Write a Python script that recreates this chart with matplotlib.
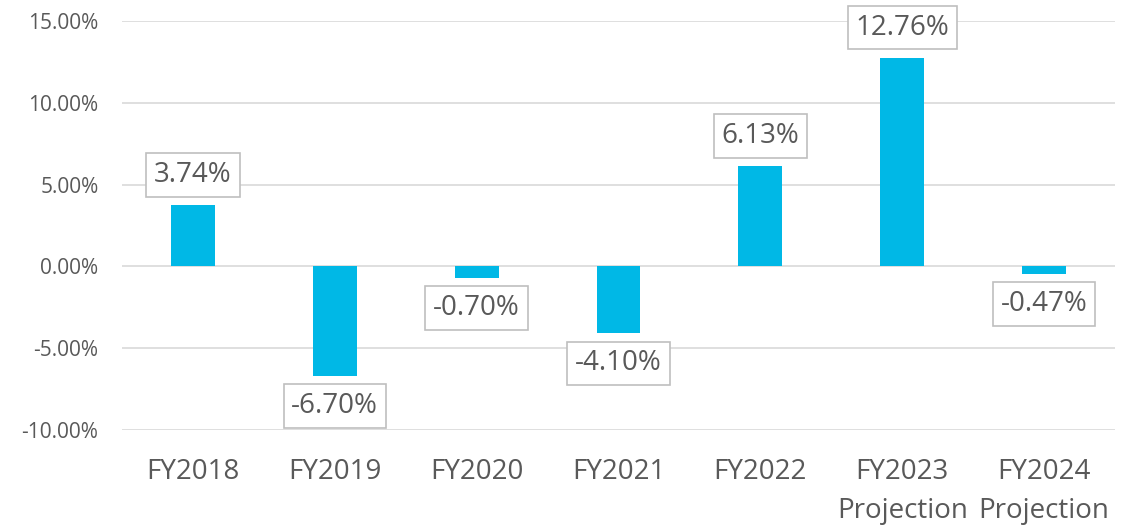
import matplotlib.pyplot as plt
from matplotlib.ticker import FuncFormatter

categories = ["FY2018", "FY2019", "FY2020", "FY2021", "FY2022",
              "FY2023\nProjection", "FY2024\nProjection"]
growth = [3.74, -6.70, -0.70, -4.10, 6.13, 12.76, -0.47]
yticks = [-10, -5, 0, 5, 10, 15]

BAR = "#00B8E6"
TEXT = "#595959"
GRID = "#D9D9D9"

plt.rcParams["font.family"] = ["Open Sans", "DejaVu Sans"]

fig = plt.figure(figsize=(11.37, 5.27), dpi=100)
ax = fig.add_axes([122 / 1137, 1 - 430 / 527, (1115 - 122) / 1137, (430 - 21) / 527])

x = list(range(len(categories)))
ax.bar(x, growth, width=0.31, color=BAR, zorder=3)

for xi, v in zip(x, growth):
    off = 11.5 if v >= 0 else -11.5
    ax.annotate(f"{v:.2f}%", (xi, v), xytext=(0, off), textcoords="offset points",
                ha="center", va="bottom" if v >= 0 else "top",
                fontsize=20, color=TEXT, zorder=4,
                bbox=dict(boxstyle="square,pad=0.28", fc="white", ec="#BFBFBF", lw=1.2))

ax.set_xlim(-0.5, len(categories) - 0.5)
ax.set_ylim(-10, 15)
ax.set_yticks(yticks)
ax.yaxis.set_major_formatter(FuncFormatter(lambda v, _: f"{v:.2f}%"))
ax.set_xticks(x)
ax.set_xticklabels(categories, linespacing=1.55)

ax.tick_params(axis="y", length=0, pad=17, labelsize=15, labelcolor=TEXT)
ax.tick_params(axis="x", length=0, pad=20, labelsize=20, labelcolor=TEXT)
for lbl in ax.get_xticklabels():
    lbl.set_va("top")

for s in ax.spines.values():
    s.set_visible(False)
ax.grid(axis="y", color=GRID, lw=1.2, zorder=0)
ax.set_axisbelow(True)

fig.savefig("out.png", dpi=100)
